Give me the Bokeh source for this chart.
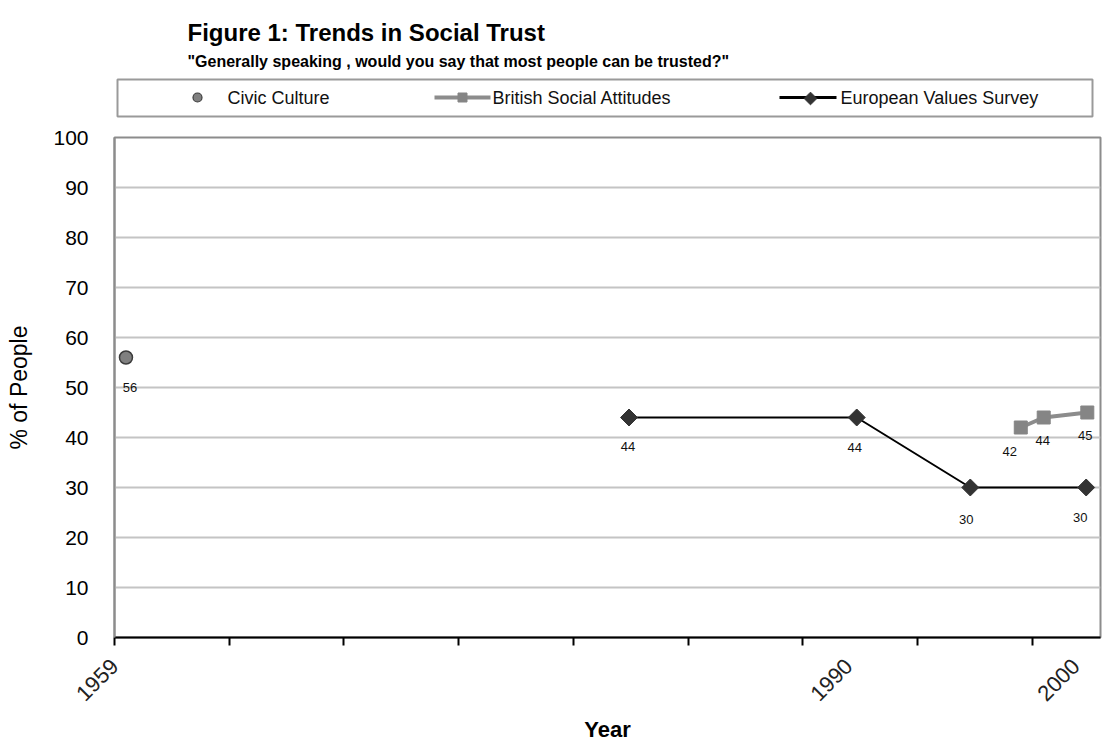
import math
from bokeh.plotting import figure
from bokeh.layouts import column
from bokeh.models import Range1d, FixedTicker, ColumnDataSource, LinearAxis
from bokeh.core.properties import value
from bokeh.embed import file_html
from bokeh.resources import INLINE

# ---- data (x = position on the chart's year axis, in tick-interval units) ----
title = "Figure 1: Trends in Social Trust"
subtitle = '"Generally speaking , would you say that most people can be trusted?"'

tick_positions = [0, 1, 2, 3, 4, 5, 6, 7, 8]
year_labels = ["1959", "1990", "2000"]
year_label_pos = [0.0, 6.40, 8.38]

civic_x = [0.10]
civic_y = [56]

bsa_x = [7.90, 8.10, 8.48]
bsa_y = [42, 44, 45]

evs_x = [4.485, 6.47, 7.46, 8.47]
evs_y = [44, 44, 30, 30]

series_names = ["Civic Culture", "British Social Attitudes", "European Values Survey"]

FONT = "Liberation Sans"
HEAD_H = 127
W = 1107
FL, FR = 114, 1100  # frame left / right in page pixels

# ---------------- header: title, subtitle, legend ----------------
hd = figure(width=W, height=HEAD_H, output_backend="svg", toolbar_location=None,
            x_range=Range1d(FL, FR), y_range=Range1d(HEAD_H, 0),
            min_border=0, min_border_left=FL, min_border_right=W - FR)
hd.axis.visible = False
hd.grid.visible = False
hd.outline_line_color = None
hd.background_fill_color = "white"
hd.border_fill_color = "white"

hd.text(x=[187], y=[32], text=[title], text_font=value(FONT),
        text_font_style="bold", text_font_size="24px", text_color="#000000",
        text_align="left", text_baseline="alphabetic")
hd.text(x=[187], y=[61], text=[subtitle], text_font=value(FONT),
        text_font_style="bold", text_font_size="16px", text_color="#000000",
        text_align="left", text_baseline="alphabetic")

# legend frame
hd.quad(left=[117], right=[1092], top=[79], bottom=[116], fill_color="white",
        line_color="#9a9a9a", line_width=2)
LY = 97
hd.scatter([197], [LY], marker="circle", size=9, fill_color="#808080",
           line_color="#3c3c3c", line_width=1.2)
hd.line([434, 490], [LY, LY], line_color="#8c8c8c", line_width=4)
hd.scatter([462], [LY], marker="square", size=9, fill_color="#858585",
           line_color="#858585")
hd.line([779, 836], [LY, LY], line_color="#000000", line_width=3)
hd.scatter([810], [LY + 1], marker="square", size=9, angle=math.pi / 4,
           fill_color="#333333", line_color="#333333")
hd.text(x=[227, 492, 840], y=[LY, LY, LY], text=series_names,
        text_font=value(FONT), text_font_size="18px", text_color="#111111",
        text_align="left", text_baseline="middle")

# ---------------- main chart ----------------
p = figure(width=W, height=747 - HEAD_H, output_backend="svg", toolbar_location=None,
           x_range=Range1d(0, 8.595), y_range=Range1d(0, 100),
           min_border_left=FL, min_border_right=W - FR, min_border_top=10,
           min_border_bottom=110)
p.background_fill_color = "white"
p.border_fill_color = "white"
p.outline_line_color = "#8c8c8c"
p.outline_line_width = 2

p.xgrid.grid_line_color = None
p.ygrid.grid_line_color = "#c4c4c4"
p.ygrid.grid_line_width = 2
p.yaxis.ticker = FixedTicker(ticks=list(range(0, 101, 10)))

# y axis
p.yaxis.axis_line_color = "#8c8c8c"
p.yaxis.axis_line_width = 2
p.yaxis.major_tick_line_color = None
p.yaxis.minor_tick_line_color = None
p.yaxis.major_tick_out = 0
p.yaxis.major_label_standoff = 26
p.yaxis.major_label_text_font = FONT
p.yaxis.major_label_text_font_size = "21px"
p.yaxis.major_label_text_color = "#000000"
p.yaxis.axis_label = "% of People"
p.yaxis.axis_label_text_font = FONT
p.yaxis.axis_label_text_font_style = "normal"
p.yaxis.axis_label_text_font_size = "23px"
p.yaxis.axis_label_text_color = "#000000"
p.yaxis.axis_label_standoff = 18

# x axis: tick marks only
xa = p.xaxis[0]
xa.ticker = FixedTicker(ticks=tick_positions)
xa.major_label_overrides = {t: "" for t in tick_positions}
xa.major_label_text_font_size = "1px"
xa.major_label_standoff = 0
xa.axis_line_color = "#000000"
xa.axis_line_width = 2
xa.major_tick_line_color = "#000000"
xa.major_tick_line_width = 2
xa.major_tick_in = 0
xa.major_tick_out = 8
xa.minor_tick_line_color = None

# x axis: year labels
xl = LinearAxis(ticker=FixedTicker(ticks=year_label_pos),
                major_label_overrides={pos: lab for pos, lab in zip(year_label_pos, year_labels)},
                axis_line_color=None, major_tick_line_color=None,
                minor_tick_line_color=None, major_tick_out=0, major_tick_in=0,
                major_label_orientation=math.pi / 4, major_label_standoff=17,
                major_label_text_font=FONT, major_label_text_font_size="22px",
                major_label_text_color="#222222",
                axis_label="Year", axis_label_text_font=FONT,
                axis_label_text_font_style="bold", axis_label_text_font_size="22px",
                axis_label_text_color="#000000", axis_label_standoff=6)
p.add_layout(xl, "below")

# series
p.line(evs_x, evs_y, line_color="#000000", line_width=2)
p.scatter(evs_x, evs_y, marker="square", size=12, angle=math.pi / 4,
          fill_color="#333333", line_color="#333333", line_width=1)

p.line(bsa_x, bsa_y, line_color="#8c8c8c", line_width=4)
p.scatter(bsa_x, bsa_y, marker="square", size=13,
          fill_color="#858585", line_color="#858585", line_width=1)

p.scatter(civic_x, civic_y, marker="circle", size=13,
          fill_color="#808080", line_color="#3c3c3c", line_width=1.5)

# data labels (offsets in screen pixels, positive y_offset = downward)
lab_x = civic_x + evs_x + bsa_x
lab_y = civic_y + evs_y + bsa_y
lab_dx = [4, -1, -2, -4, -6, -11, -1, -2]
lab_dy = [30, 29, 30, 32, 30, 24, 23, 23]
src = ColumnDataSource(dict(x=lab_x, y=lab_y, t=[str(v) for v in lab_y],
                            dx=lab_dx, dy=lab_dy))
p.text(x="x", y="y", text="t", x_offset="dx", y_offset="dy", source=src,
       text_font=value(FONT), text_font_size="13px", text_color="#111111",
       text_align="center", text_baseline="middle")

layout = column(hd, p, spacing=0)
open("out.html", "w").write(file_html(layout, INLINE))
